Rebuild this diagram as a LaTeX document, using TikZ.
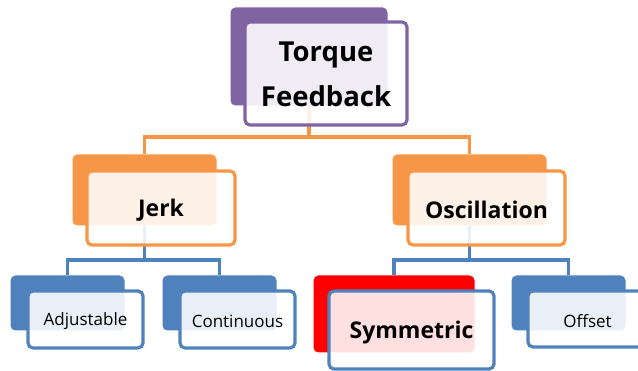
\documentclass[tikz,border=0pt]{standalone}
\usepackage{fontspec}
\setmainfont{Open Sans}
\definecolor{cpurple}{HTML}{8064A2}
\definecolor{corange}{HTML}{F79646}
\definecolor{cblue}{HTML}{4F81BD}
\definecolor{cred}{HTML}{FF0000}
\begin{document}
\begin{tikzpicture}[x=1pt,y=-1pt,
  backbox/.style={rounded corners=5pt, draw=white, line width=1pt, fill=#1, inner sep=0pt, outer sep=0pt, anchor=north west},
  frontbox/.style={rounded corners=5pt, draw=#1, line width=3.2pt, fill=white, fill opacity=0.88, text opacity=1, draw opacity=1, inner sep=0pt, outer sep=0pt, anchor=north west, align=center},
  conn/.style={draw=#1, line width=3.2pt},
  lvlone/.style={font=\fontsize{27.5}{45}\selectfont\bfseries},
  lvltwo/.style={font=\fontsize{23}{28}\selectfont\bfseries},
  lvlthree/.style={font=\fontsize{17}{20}\selectfont},
]
\useasboundingbox (0,0) rectangle (638,371);
% back boxes
\node[backbox=cpurple, minimum width=158pt, minimum height=99pt] (tfB) at (230,7) {};
\node[backbox=corange, minimum width=145pt, minimum height=72pt] (jkB) at (72,154) {};
\node[backbox=corange, minimum width=155pt, minimum height=72pt] (osB) at (392,154) {};
\node[backbox=cblue, minimum width=115pt, minimum height=56pt] (adB) at (10,275) {};
\node[backbox=cblue, minimum width=115pt, minimum height=56pt] (coB) at (162,275) {};
\node[backbox=cred, minimum width=162pt, minimum height=78pt] (syB) at (313,275) {};
\node[backbox=cblue, minimum width=115pt, minimum height=56pt] (ofB) at (511,275) {};
% bus coordinates
\coordinate (busA) at (0,137);
\coordinate (busB) at (0,260);
% connectors
\draw[conn=corange] (tfB.south) -- (tfB.south |- busA) -| (jkB.north);
\draw[conn=corange] (tfB.south |- busA) -| (osB.north);
\draw[conn=cblue] (jkB.south) -- (jkB.south |- busB) -| (adB.north);
\draw[conn=cblue] (jkB.south |- busB) -| (coB.north);
\draw[conn=cblue] (osB.south) -- (osB.south |- busB) -| (syB.north);
\draw[conn=cblue] (osB.south |- busB) -| (ofB.north);
% front boxes
\node[frontbox=cpurple, minimum width=162pt, minimum height=103pt] (tfF) at (245,22) {};
\node[lvlone, align=center] (tfT) at ([yshift=-1pt]tfF.center) {Torque\\Feedback};
\node[frontbox=corange, minimum width=148pt, minimum height=74pt] (jkF) at (87,171) {};
\node[lvltwo] (jkT) at ([yshift=-2pt]jkF.center) {Jerk};
\node[frontbox=corange, minimum width=157pt, minimum height=74pt] (osF) at (408,171) {};
\node[lvltwo] (osT) at ([yshift=-2pt]osF.center) {Oscillation};
\node[frontbox=cblue, minimum width=115pt, minimum height=57pt] (adF) at (28,291) {};
\node[lvlthree] (adT) at ([yshift=-2pt]adF.center) {Adjustable};
\node[frontbox=cblue, minimum width=115pt, minimum height=57pt] (coF) at (180,291) {};
\node[lvlthree] (coT) at ([yshift=-2pt]coF.center) {Continuous};
\node[frontbox=cblue, minimum width=165pt, minimum height=78pt] (syF) at (329,291) {};
\node[lvltwo] (syT) at ([yshift=-3pt]syF.center) {Symmetric};
\node[frontbox=cblue, minimum width=115pt, minimum height=56pt] (ofF) at (528,291) {};
\node[lvlthree] (ofT) at ([xshift=2pt,yshift=-2pt]ofF.center) {Offset};
\end{tikzpicture}
\end{document}
